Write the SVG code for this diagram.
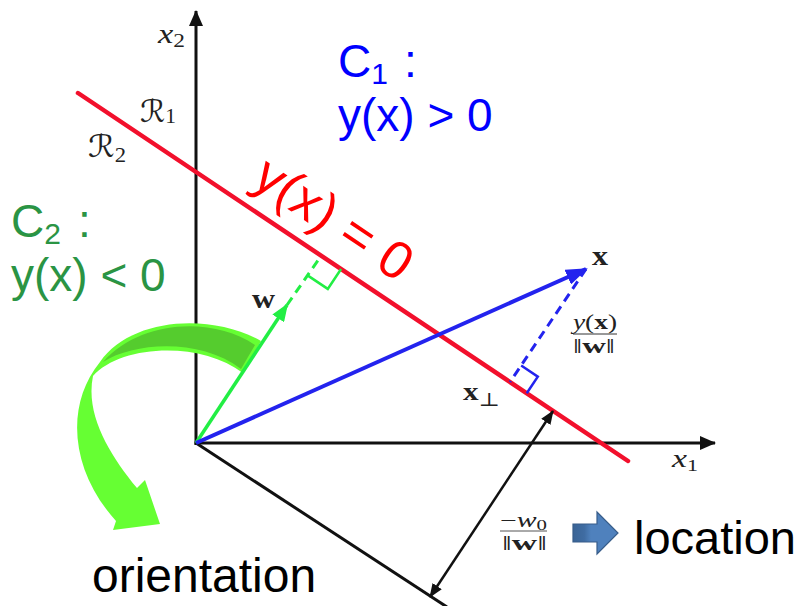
<svg xmlns="http://www.w3.org/2000/svg" width="804" height="606" viewBox="0 0 804 606">
<style>
.ax{stroke:#111;stroke-width:3;fill:none}
.sans{font-family:"Liberation Sans",Arial,sans-serif}
.math{font-family:"Liberation Serif","DejaVu Serif",serif;fill:#222}
.it{font-style:italic}
.bd{font-weight:bold}
.cal{font-family:"DejaVu Serif","DejaVu Sans",serif;fill:#222}
</style>
<defs>
<marker id="hb" viewBox="0 0 16 14" refX="15" refY="7" markerWidth="16" markerHeight="14" markerUnits="userSpaceOnUse" orient="auto-start-reverse"><path d="M0,0 L16,7 L0,14 Z" fill="#111"/></marker>
<marker id="hs" viewBox="0 0 14 11" refX="13" refY="5.5" markerWidth="14" markerHeight="11" markerUnits="userSpaceOnUse" orient="auto-start-reverse"><path d="M0,0 L14,5.5 L0,11 Z" fill="#111"/></marker>
<marker id="hbl" viewBox="0 0 22 16" refX="20" refY="8" markerWidth="22" markerHeight="16" markerUnits="userSpaceOnUse" orient="auto"><path d="M0,0 L22,8 L0,16 Z" fill="#2323ee"/></marker>
<marker id="hg" viewBox="0 0 18 14" refX="16" refY="7" markerWidth="18" markerHeight="14" markerUnits="userSpaceOnUse" orient="auto"><path d="M0,0 L18,7 L0,14 Z" fill="#22ee44"/></marker>
<linearGradient id="bg" x1="0" y1="0" x2="1" y2="0"><stop offset="0" stop-color="#3a6496"/><stop offset="0.25" stop-color="#3f6ca2"/><stop offset="0.4" stop-color="#4f81bd"/><stop offset="1" stop-color="#4f81bd"/></linearGradient>
</defs>

<g id="axes">
<line class="ax" x1="196" y1="445" x2="196" y2="11" marker-end="url(#hb)"/>
<line class="ax" x1="194.5" y1="443" x2="715" y2="443" marker-end="url(#hb)"/>
<line class="ax" x1="196" y1="443" x2="447" y2="607" stroke-width="2.5"/>
</g>

<g id="boundary">
<line x1="78" y1="93" x2="628" y2="461" stroke="#f2102c" stroke-width="4.5" stroke-linecap="round"/>
</g>

<g id="orientation-arrow">
<path d="M261,341 C210,312 130,318 100,362 C65,405 70,470 116,521 L113,530 L160,524 L145,480 L137,488 C110,455 85,415 93,376 C120,345 200,340 243,373 Z" fill="#66ff33"/>
<path d="M255,345 C212,316 140,320 103,362 C135,342 200,338 241,369 Z" fill="#55cc2e"/>
</g>

<g id="connectors">
<line x1="196" y1="443" x2="287" y2="305" stroke="#22ee44" stroke-width="3.5" marker-end="url(#hg)"/>
<line x1="287" y1="305" x2="321" y2="256" stroke="#22ee44" stroke-width="3" stroke-dasharray="9,6"/>
<polyline points="307.9,275.6 327.8,288.9 341.1,269" fill="none" stroke="#22ee44" stroke-width="2.5"/>
<line x1="196" y1="443" x2="586" y2="269" stroke="#2323ee" stroke-width="4" marker-end="url(#hbl)"/>
<line x1="586" y1="269" x2="510" y2="382" stroke="#2323ee" stroke-width="3" stroke-dasharray="9,6"/>
<polyline points="521.2,365.5 537.8,376.6 526.7,393.2" fill="none" stroke="#2323ee" stroke-width="2.5"/>
<line x1="553" y1="411" x2="430" y2="597" stroke="#111" stroke-width="2.5" marker-start="url(#hs)" marker-end="url(#hs)"/>
</g>

<g id="location-arrow">
<path d="M573,524 L597,524 L597,512 L618,533 L597,554 L597,542 L573,542 Z" fill="url(#bg)" stroke="#385d8a" stroke-width="1.2"/>
</g>

<g id="labels">
<text class="math" x="158" y="43" font-size="28" textLength="27" lengthAdjust="spacingAndGlyphs"><tspan class="it">x</tspan><tspan font-size="19" dy="4">2</tspan></text>
<text class="cal" x="140" y="122" font-size="31" textLength="36" lengthAdjust="spacingAndGlyphs">ℛ<tspan class="math" font-size="21" dy="1">1</tspan></text>
<text class="cal" x="88" y="157" font-size="31" textLength="38" lengthAdjust="spacingAndGlyphs">ℛ<tspan class="math" font-size="21" dy="5">2</tspan></text>
<text class="math bd" x="252" y="308" font-size="28" textLength="23" lengthAdjust="spacingAndGlyphs">w</text>
<text class="math bd" x="592" y="265" font-size="28" textLength="16" lengthAdjust="spacingAndGlyphs">x</text>
<text class="math" x="573" y="329" font-size="20" textLength="44" lengthAdjust="spacingAndGlyphs"><tspan class="it">y</tspan>(<tspan class="bd">x</tspan>)</text>
<line x1="573" y1="334" x2="617" y2="334" stroke="#333" stroke-width="1"/>
<text class="math" x="573" y="353" font-size="20" textLength="42" lengthAdjust="spacingAndGlyphs">‖<tspan class="bd">w</tspan>‖</text>
<text class="math" x="463" y="400" font-size="26" textLength="37" lengthAdjust="spacingAndGlyphs"><tspan class="bd">x</tspan><tspan font-size="19" dy="6">⊥</tspan></text>
<text class="math" x="500" y="527" font-size="20" textLength="47" lengthAdjust="spacingAndGlyphs" fill="#444">−<tspan class="it">w</tspan><tspan font-size="14" dy="3">0</tspan></text>
<line x1="500" y1="531" x2="547" y2="531" stroke="#555" stroke-width="1"/>
<text class="math" x="502" y="550" font-size="20" textLength="45" lengthAdjust="spacingAndGlyphs" fill="#444">‖<tspan class="bd">w</tspan>‖</text>
<text class="math" x="672" y="467" font-size="26" textLength="26" lengthAdjust="spacingAndGlyphs"><tspan class="it">x</tspan><tspan font-size="17" dy="4">1</tspan></text>

<text class="sans" x="338" y="77" font-size="46" fill="#0000ff">C<tspan font-size="30" dy="7">1</tspan><tspan x="404" dy="-7">:</tspan></text>
<text class="sans" x="338" y="131" font-size="46" fill="#0000ff">y(x) &gt; 0</text>

<text class="sans" x="11" y="237" font-size="46" fill="#2a9444">C<tspan font-size="30" dy="7">2</tspan><tspan x="78" dy="-7">:</tspan></text>
<text class="sans" x="11" y="291" font-size="46" fill="#2a9444">y(x) &lt; 0</text>

<text class="sans" transform="translate(250,184) rotate(33.8)" font-size="53" fill="#ff0000">y(x) = 0</text>

<text class="sans" x="634" y="554" font-size="47" fill="#000">location</text>
<text class="sans" x="92" y="592" font-size="48" fill="#000">orientation</text>
</g>
</svg>
